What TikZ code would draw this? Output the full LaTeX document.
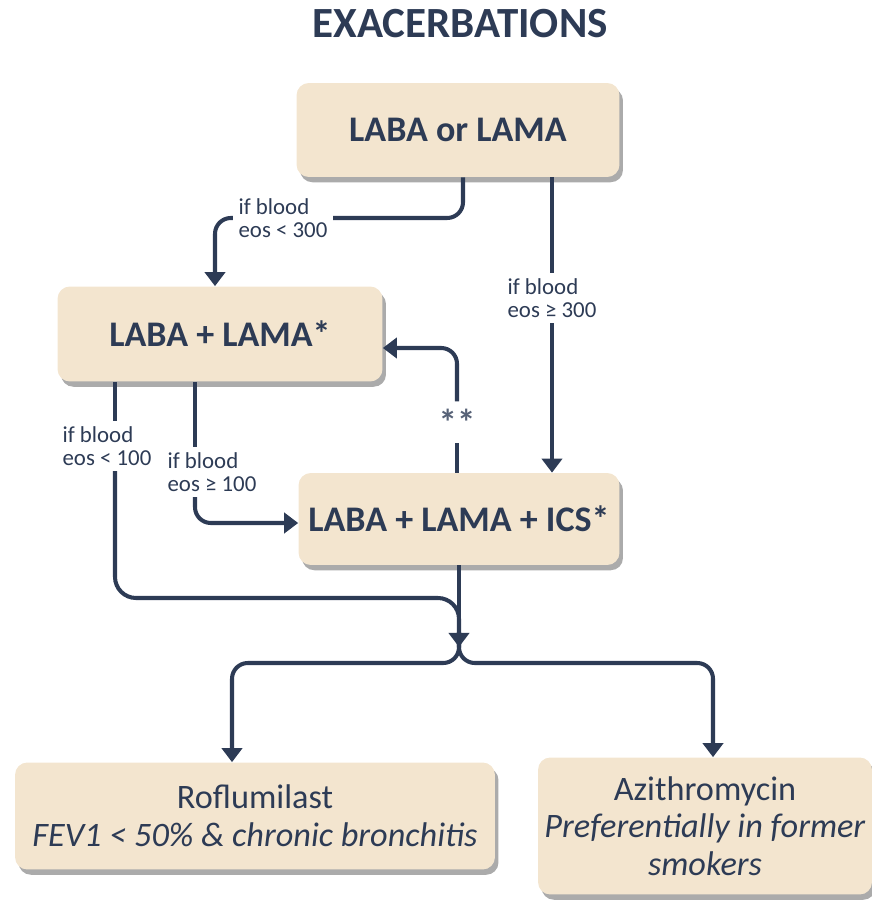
\documentclass[tikz,border=0pt]{standalone}
\usepackage{fontspec}
\setmainfont{Carlito}
\usetikzlibrary{arrows.meta,shadows}
\definecolor{navy}{HTML}{2D3B55}
\definecolor{sand}{HTML}{F3E5CF}

\begin{document}
\begin{tikzpicture}[x=0.02cm, y=-0.02cm,
    box/.style={fill=sand, rounded corners=7pt, align=center, inner sep=0pt, text=navy,
      drop shadow={shadow xshift=2pt, shadow yshift=-3pt, fill=black!55, opacity=0.6}},
    boldbox/.style={box, font=\fontsize{20.5}{24}\selectfont\bfseries},
    drugbox/.style={box, font=\fontsize{19.5}{21.5}\selectfont},
    lbl/.style={align=left, text=navy, inner sep=3pt, font=\fontsize{13}{13}\selectfont},
    flow/.style={draw=navy, line width=2.3pt, rounded corners=9pt},
    arr/.style={flow, -{Triangle[width=11.5pt, length=8pt]}}]
  \useasboundingbox (0,0) rectangle (871,901);

  \node[font=\fontsize{24.5}{28}\selectfont\bfseries, text=navy] (title) at (460,24) {EXACERBATIONS};

  \node[boldbox, minimum width=6.46cm, minimum height=1.88cm] (mono) at (458,130) {LABA or LAMA};
  \node[boldbox, minimum width=6.5cm, minimum height=1.9cm] (dual) at (220,334) {LABA + LAMA*};
  \node[boldbox, minimum width=6.42cm, minimum height=1.84cm] (triple) at (459,519) {LABA + LAMA + ICS*};
  \node[drugbox, minimum width=9.6cm, minimum height=2.14cm] (roflu) at (255,816)
    {Roflumilast\\\textit{FEV1 < 50\% \& chronic bronchitis}};
  \node[drugbox, minimum width=6.68cm, minimum height=2.74cm] (azithro) at (705,826)
    {Azithromycin\\\textit{Preferentially in former}\\\textit{smokers}};

  \node[lbl] (lo300) at (283,218) {if blood\\eos < 300};
  \node[lbl] (hi300) at (552,298) {if blood\\eos ≥ 300};
  \node[lbl] (lo100) at (107,446) {if blood\\eos < 100};
  \node[lbl] (hi100) at (212,472) {if blood\\eos ≥ 100};
  \node[lbl, inner sep=4pt, text=navy!80, font=\fontsize{21}{21}\selectfont\bfseries] (twostar) at (457,422) {**};

  \coordinate (fork) at (459,632);

  \draw[flow] (mono.south -| 463,0) |- (lo300.east);
  \draw[arr] (lo300.west) -| (dual.north -| 215,0);

  \draw[flow] (mono.south -| hi300) -- (hi300.north);
  \draw[arr] (hi300.south) -- (triple.north -| hi300);

  \draw[flow] (triple.north -| twostar) -- (twostar.south);
  \draw[arr] (twostar.north) |- (dual.east |- 0,348);

  \draw[flow] (dual.south -| 115,0) -- (lo100.north -| 115,0);
  \draw[flow, rounded corners=12pt] (lo100.south -| 115,0) |- (fork |- 0,598) -- (fork);

  \draw[flow] (dual.south -| 195,0) -- (hi100.north -| 195,0);
  \draw[arr] (hi100.south -| 195,0) |- (triple.west |- 0,523);

  \draw[arr] (triple.south) -- (fork |- 0,647);

  \draw[arr] (fork) -- (fork |- 0,663) -| (roflu.north -| 232,0);
  \draw[arr] (fork) -- (fork |- 0,663) -| (azithro.north -| 713,0);
\end{tikzpicture}
\end{document}
